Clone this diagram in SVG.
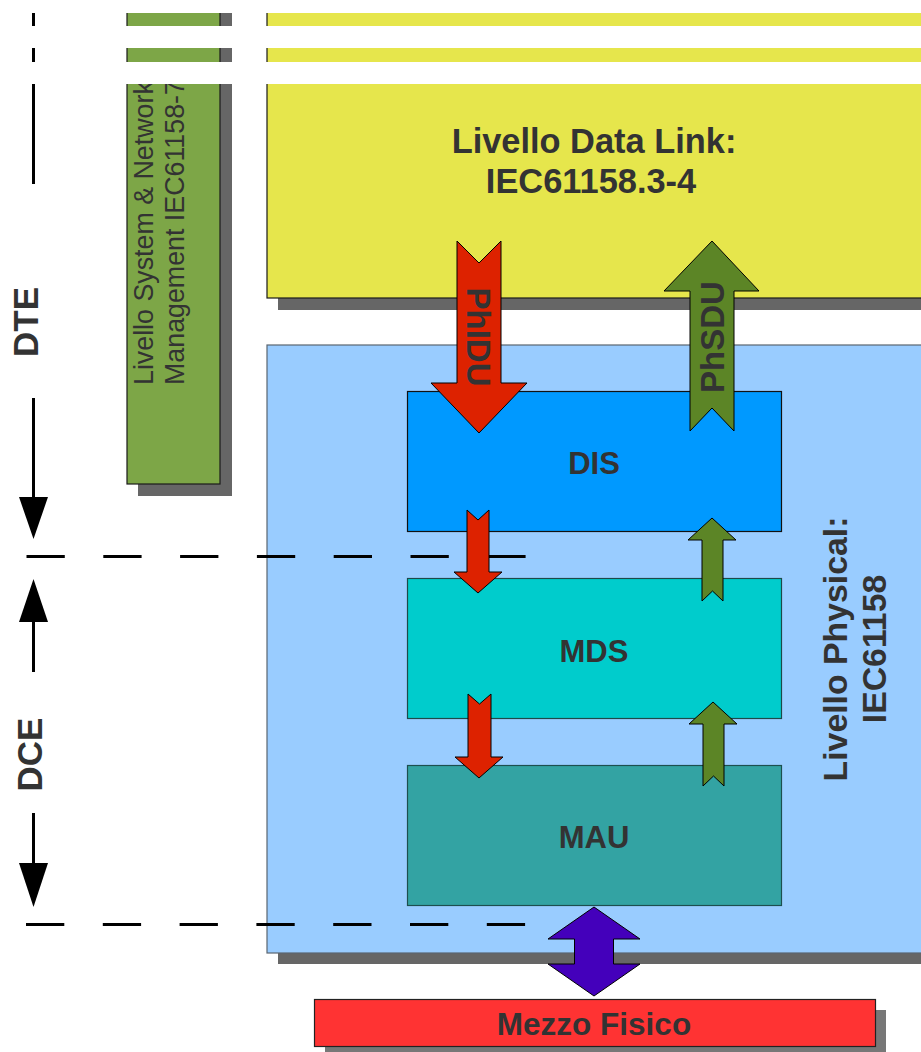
<svg xmlns="http://www.w3.org/2000/svg" width="921" height="1052" viewBox="0 0 921 1052">
  <style>
    .lbl { font-family: "Liberation Sans", Arial, sans-serif; fill: #333333; }
    .b { font-weight: bold; }
    .shadow { fill: #666666; }
    .arrow { stroke: #000000; stroke-width: 1; stroke-linejoin: miter; }
    .red { fill: #dd2200; }
    .grn { fill: #5c8526; }
    .dim { stroke: #000000; stroke-width: 3; fill: none; }
    .dash { stroke: #000000; stroke-width: 3; stroke-dasharray: 38.3 38.5; fill: none; }
  </style>

  <rect x="0" y="0" width="921" height="1052" fill="#ffffff"/>

  <!-- System & Network management column -->
  <g id="management">
    <rect class="shadow" x="138" y="0" width="94" height="496"/>
    <rect x="127" y="-2" width="93" height="486" fill="#7da647" stroke="#1a1a1a" stroke-width="1.2"/>
    <g class="lbl" font-size="26.8" transform="translate(153,385) rotate(-90)">
      <text x="0" y="0">Livello System &amp; Network</text>
      <text x="0" y="30.5">Management IEC61158-7</text>
    </g>
  </g>

  <!-- Data link layer -->
  <g id="datalink">
    <rect class="shadow" x="278" y="0" width="660" height="310"/>
    <rect x="267" y="-2" width="670" height="300" fill="#e6e64c" stroke="#1a1a1a" stroke-width="1.2"/>
    <text class="lbl b" font-size="34.4" x="594" y="153" text-anchor="middle">Livello Data Link:</text>
    <text class="lbl b" font-size="34.4" x="591" y="193" text-anchor="middle">IEC61158.3-4</text>
  </g>

  <!-- Physical layer container -->
  <g id="physical">
    <rect class="shadow" x="278" y="356" width="660" height="608"/>
    <rect x="267" y="345" width="670" height="608" fill="#99ccff" stroke="#5a6570" stroke-width="1.2"/>
    <g class="lbl b" font-size="33.8" text-anchor="middle" transform="translate(847,649) rotate(-90)">
      <text x="0" y="0">Livello Physical:</text>
      <text x="0" y="39">IEC61158</text>
    </g>
  </g>

  <g id="dis">
    <rect x="407.5" y="391.5" width="374" height="140" fill="#0099ff" stroke="#111111" stroke-width="1.2"/>
    <text class="lbl b" font-size="31" x="594" y="474" text-anchor="middle">DIS</text>
  </g>

  <g id="mds">
    <rect x="407.5" y="578.5" width="374" height="140" fill="#00cccc" stroke="#1d4a4a" stroke-width="1.2"/>
    <text class="lbl b" font-size="31" x="594" y="662" text-anchor="middle">MDS</text>
  </g>

  <g id="mau">
    <rect x="407.5" y="765.5" width="374" height="140" fill="#33a3a3" stroke="#1d4f4f" stroke-width="1.2"/>
    <text class="lbl b" font-size="31" x="594" y="848" text-anchor="middle">MAU</text>
  </g>

  <g id="mezzo">
    <rect x="325" y="1010" width="561" height="47" fill="#777777"/>
    <rect x="314.5" y="999.5" width="561" height="47" fill="#ff3333" stroke="#222222" stroke-width="1.2"/>
    <text class="lbl b" font-size="31.5" x="594" y="1035" text-anchor="middle">Mezzo Fisico</text>
  </g>

  <!-- Connectors: dimension lines, boundaries and data-flow arrows -->
  <g id="connectors">
    <!-- DTE / DCE extent markers -->
    <line class="dim" x1="33.5" y1="0" x2="33.5" y2="184"/>
    <line class="dim" x1="33.5" y1="398" x2="33.5" y2="500"/>
    <polygon points="19,497 48,497 33.5,539" fill="#000000"/>
    <polygon points="33.5,579 48,622 19,622" fill="#000000"/>
    <line class="dim" x1="33.5" y1="619" x2="33.5" y2="672"/>
    <line class="dim" x1="33.5" y1="813" x2="33.5" y2="866"/>
    <polygon points="19,863 48,863 33.5,907" fill="#000000"/>

    <line class="dash" x1="26.5" y1="556.5" x2="527" y2="556.5"/>
    <line class="dash" x1="26" y1="924.5" x2="526" y2="924.5"/>

    <!-- PhIDU down -->
    <polygon class="arrow red" points="457,241 479,263 501,241 501,383 527,383 479,433 431,383 457,383"/>
    <!-- PhSDU up -->
    <polygon class="arrow grn" points="712,241 759,291 734,291 734,431 712,408 690,431 690,291 664,291"/>

    <polygon class="arrow red" points="467,510 478,520 489,510 489,572 502,572 478,593 454,572 467,572"/>
    <polygon class="arrow red" points="468,694 479.5,704 491,694 491,757 503,757 479,778 455,757 468,757"/>
    <polygon class="arrow grn" points="712,518 736,540 723,540 723,601 712.5,591 702,601 702,540 688,540"/>
    <polygon class="arrow grn" points="713,702 737,724 724,724 724,786 713.5,776 703,786 703,724 689,724"/>

    <!-- MAU <-> medium -->
    <polygon class="arrow" fill="#4400bb" points="594,907 640,939 613.5,939 613.5,964 640,964 594,996 548,964 574.5,964 574.5,939 548,939"/>
  </g>

  <!-- break marks across the top of the continuing columns -->
  <g id="breaks" fill="#ffffff">
    <rect x="0" y="0" width="921" height="13"/>
    <rect x="0" y="26" width="921" height="22"/>
    <rect x="0" y="62" width="921" height="22"/>
  </g>

  <g id="extent-labels">
    <text class="lbl b" font-size="35" text-anchor="middle" transform="translate(38,322) rotate(-90)">DTE</text>
    <text class="lbl b" font-size="35" text-anchor="middle" transform="translate(42,754.5) rotate(-90)">DCE</text>
  </g>

  <g id="flow-labels" class="lbl b" font-size="33" text-anchor="middle">
    <text transform="translate(467,337) rotate(90)">PhIDU</text>
    <text transform="translate(724,337) rotate(-90)">PhSDU</text>
  </g>
</svg>
